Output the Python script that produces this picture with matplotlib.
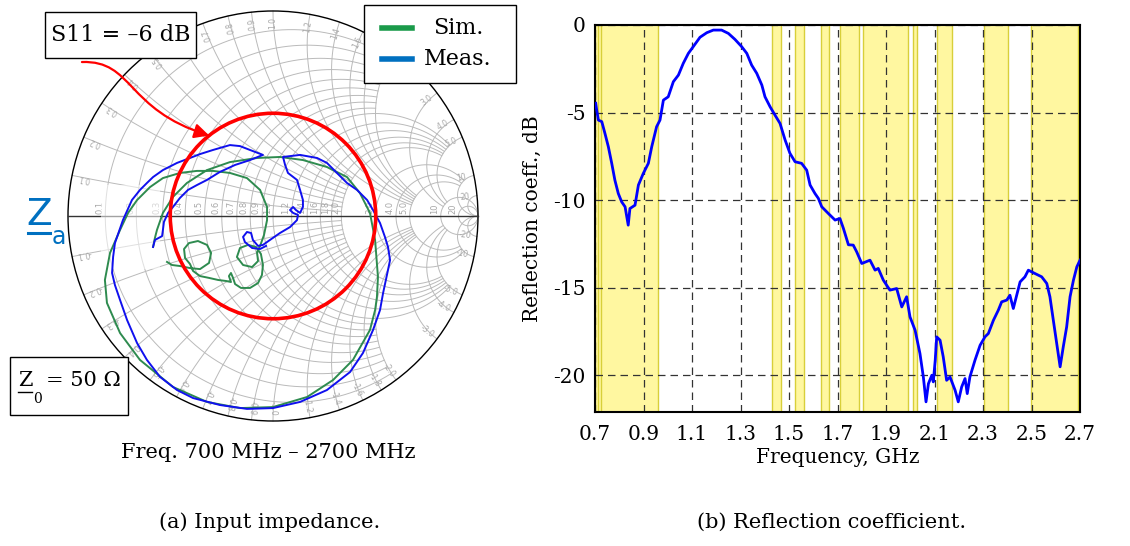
import numpy as np
import matplotlib.pyplot as plt
from matplotlib.patches import Circle, Rectangle, FancyArrowPatch
from matplotlib.path import Path
from matplotlib.lines import Line2D

plt.rcParams['font.family'] = ['DejaVu Serif']
plt.rcParams['mathtext.fontset'] = 'dejavuserif'
plt.rcParams['axes.unicode_minus'] = False

# --- Datos: carta de Smith (coeficiente de reflexion, parte real / imaginaria) ---
meas_re = [-0.585, -0.576, -0.541, -0.537, -0.532, -0.512, -0.488, -0.454, -0.415, -0.371,
           -0.322, -0.259, -0.185, -0.112, -0.049, -0.112, -0.161, -0.210, -0.293, -0.356,
           -0.405, -0.468, -0.537, -0.585, -0.615, -0.649, -0.688, -0.732, -0.771, -0.780,
           -0.785, -0.771, -0.746, -0.712, -0.663, -0.615, -0.551, -0.468, -0.390, -0.259,
           -0.127, 0.000, 0.132, 0.263, 0.376, 0.439, 0.488, 0.522, 0.537, 0.561,
           0.571, 0.561, 0.546, 0.522, 0.488, 0.459, 0.410, 0.361, 0.312, 0.263,
           0.215, 0.132, 0.049, 0.059, 0.073, 0.117, 0.132, 0.146, 0.146, 0.132,
           0.112, 0.098, 0.083, 0.098, 0.122, 0.117, 0.083, 0.034, -0.015, -0.049,
           -0.073, -0.098, -0.107, -0.127, -0.146, -0.137, -0.102, -0.063, -0.034]
meas_im = [-0.151, -0.117, -0.098, -0.068, -0.029, 0.015, 0.044, 0.088, 0.127, 0.151,
           0.176, 0.215, 0.249, 0.273, 0.298, 0.322, 0.341, 0.346, 0.322, 0.302,
           0.283, 0.259, 0.224, 0.190, 0.161, 0.127, 0.078, -0.020, -0.132, -0.200,
           -0.278, -0.337, -0.410, -0.507, -0.620, -0.702, -0.785, -0.849, -0.888, -0.922,
           -0.941, -0.937, -0.907, -0.849, -0.761, -0.668, -0.556, -0.459, -0.376, -0.263,
           -0.215, -0.151, -0.102, -0.034, 0.029, 0.078, 0.127, 0.161, 0.210, 0.259,
           0.283, 0.298, 0.288, 0.249, 0.210, 0.176, 0.127, 0.078, 0.044, 0.015,
           0.029, 0.044, 0.029, 0.015, 0.005, -0.020, -0.054, -0.083, -0.117, -0.141,
           -0.146, -0.117, -0.083, -0.078, -0.102, -0.127, -0.156, -0.161, -0.146]

sim_re = [-0.585, -0.576, -0.566, -0.537, -0.488, -0.420, -0.322, -0.210, -0.078, 0.034,
          0.146, 0.263, 0.361, 0.424, 0.473, 0.498, 0.512, 0.507, 0.498, 0.473,
          0.390, 0.293, 0.166, 0.000, -0.161, -0.322, -0.488, -0.649, -0.746, -0.810,
          -0.820, -0.795, -0.746, -0.707, -0.663, -0.600, -0.537, -0.454, -0.371, -0.293,
          -0.210, -0.127, -0.063, -0.029, -0.029, -0.044, -0.063, -0.078, -0.073, -0.102,
          -0.146, -0.176, -0.161, -0.122, -0.083, -0.059, -0.049, -0.054, -0.073, -0.112,
          -0.156, -0.185, -0.195, -0.205, -0.215, -0.205, -0.229, -0.268, -0.312, -0.356,
          -0.390, -0.405, -0.429, -0.434, -0.410, -0.366, -0.322, -0.302, -0.312, -0.356,
          -0.405, -0.454, -0.493, -0.517]
sim_im = [-0.151, -0.107, -0.068, 0.015, 0.093, 0.161, 0.224, 0.263, 0.283, 0.288,
          0.273, 0.239, 0.190, 0.112, 0.015, -0.117, -0.298, -0.395, -0.459, -0.556,
          -0.702, -0.800, -0.883, -0.932, -0.937, -0.907, -0.834, -0.702, -0.571, -0.424,
          -0.312, -0.180, -0.068, 0.015, 0.078, 0.141, 0.185, 0.210, 0.220, 0.220,
          0.210, 0.185, 0.127, 0.044, -0.020, -0.093, -0.146, -0.176, -0.220, -0.249,
          -0.239, -0.200, -0.156, -0.141, -0.151, -0.185, -0.239, -0.288, -0.327, -0.351,
          -0.351, -0.332, -0.302, -0.278, -0.293, -0.322, -0.317, -0.312, -0.302, -0.293,
          -0.268, -0.234, -0.205, -0.161, -0.132, -0.122, -0.141, -0.180, -0.229, -0.259,
          -0.254, -0.244, -0.239, -0.224]

s11_limit_db = -6

# valores de la rejilla de Smith
r_grid = [0.1, 0.2, 0.3, 0.4, 0.5, 0.6, 0.7, 0.8, 0.9, 1.0, 1.2, 1.4, 1.6, 1.8, 2.0,
          3.0, 4.0, 5.0, 10, 20]
r_labels = ['0.1', '0.2', '0.3', '0.4', '0.5', '0.6', '0.7', '0.8', '0.9', '1.0', '1.2',
            '1.4', '1.6', '1.8', '2.0', '3.0', '4.0', '5.0', '10', '20']

# --- Datos: coeficiente de reflexion medido ---
freq_ghz = [0.703, 0.707, 0.714, 0.728, 0.741, 0.755, 0.769, 0.782, 0.796, 0.810,
            0.824, 0.837, 0.844, 0.865, 0.879, 0.899, 0.920, 0.934, 0.954, 0.968,
            0.982, 1.002, 1.023, 1.044, 1.064, 1.085, 1.105, 1.133, 1.161, 1.188,
            1.222, 1.250, 1.277, 1.305, 1.326, 1.346, 1.367, 1.388, 1.401, 1.422,
            1.442, 1.463, 1.484, 1.504, 1.525, 1.552, 1.573, 1.587, 1.607, 1.621,
            1.635, 1.662, 1.690, 1.710, 1.724, 1.745, 1.765, 1.779, 1.800, 1.834,
            1.855, 1.868, 1.889, 1.916, 1.944, 1.965, 1.985, 1.999, 2.020, 2.040,
            2.054, 2.065, 2.075, 2.089, 2.095, 2.103, 2.109, 2.123, 2.136, 2.150,
            2.164, 2.185, 2.198, 2.212, 2.226, 2.235, 2.246, 2.267, 2.288, 2.308,
            2.322, 2.343, 2.363, 2.377, 2.398, 2.411, 2.425, 2.439, 2.453, 2.473,
            2.487, 2.514, 2.542, 2.563, 2.576, 2.590, 2.604, 2.618, 2.631, 2.645,
            2.659, 2.673, 2.687, 2.700]
s11_db = [-4.47, -4.86, -5.43, -5.52, -6.19, -6.95, -7.90, -8.86, -9.62, -10.10,
          -10.38, -11.43, -10.48, -10.29, -9.14, -8.48, -7.90, -6.95, -5.81, -5.43,
          -4.29, -4.10, -3.24, -2.86, -2.19, -1.62, -1.24, -0.70, -0.44, -0.29,
          -0.29, -0.48, -0.82, -1.24, -1.62, -2.29, -2.76, -3.43, -4.10, -4.67,
          -5.14, -5.62, -6.57, -7.33, -7.81, -7.90, -8.29, -9.14, -9.62, -9.90,
          -10.38, -10.76, -11.14, -11.05, -11.60, -12.55, -12.57, -12.95, -13.62, -13.43,
          -14.00, -13.90, -14.57, -15.14, -15.05, -16.10, -15.52, -16.67, -17.43, -18.76,
          -20.10, -21.52, -20.48, -20.00, -20.38, -19.14, -17.81, -18.00, -18.95, -20.29,
          -20.10, -20.86, -21.52, -20.67, -20.19, -21.05, -20.10, -19.14, -18.29, -17.81,
          -17.62, -16.86, -16.29, -15.81, -15.71, -15.43, -16.19, -15.43, -14.67, -14.38,
          -14.00, -14.19, -14.38, -14.76, -15.52, -16.86, -18.19, -19.52, -18.38, -17.24,
          -15.52, -14.57, -13.81, -13.43]

# bandas de servicio (GHz)
band_lo = [0.700, 0.714, 1.431, 1.525, 1.631, 1.710, 1.806, 2.010, 2.109, 2.304, 2.497]
band_hi = [0.723, 0.961, 1.467, 1.561, 1.666, 1.787, 1.992, 2.026, 2.171, 2.404, 2.691]

freq_ticks = [0.7, 0.9, 1.1, 1.3, 1.5, 1.7, 1.9, 2.1, 2.3, 2.5, 2.7]
db_ticks = [0, -5, -10, -15, -20]

W, H = 1130, 546
fig = plt.figure(figsize=(W / 100, H / 100), dpi=100)


def fp(x, y):
    # pixeles (origen arriba-izquierda) -> fraccion de figura
    return x / W, 1 - y / H


def fig_box(x0, y0, x1, y1):
    # recuadro blanco con borde negro en pixeles de figura
    fig.patches.append(Rectangle(fp(x0, y1), (x1 - x0) / W, (y1 - y0) / H,
                                 transform=fig.transFigure, fc='white', ec='black',
                                 lw=1.0, zorder=6))


# ================= (a) Carta de Smith =================
R_PX = 205
ax = fig.add_axes([20 / W, (H - 432) / H, 506 / W, 432 / H])
ax.set_xlim(-253 / R_PX, 253 / R_PX)
ax.set_ylim(-216 / R_PX, 216 / R_PX)
ax.axis('off')

grid_kw = dict(color='#bababa', lw=0.7, zorder=1)


def gamma(z):
    return (z - 1) / (z + 1)


def lim_x(r):
    if r < 1:
        return 2.0
    if r <= 2:
        return 5.0
    if r <= 5:
        return 10.0
    return 1e3


# circulos de resistencia constante
for r in r_grid:
    t = np.linspace(-np.arctan(lim_x(r)), np.arctan(lim_x(r)), 400)
    g = gamma(r + 1j * np.tan(t))
    ax.plot(g.real, g.imag, **grid_kw)

# arcos de reactancia constante
for xv in r_grid:
    rmax = lim_x(xv)
    t = np.linspace(0, np.arctan(rmax), 400)
    for s in (1, -1):
        g = gamma(np.tan(t) + 1j * s * xv)
        ax.plot(g.real, g.imag, **grid_kw)

# etiquetas de resistencia sobre el eje real
for r, lab in zip(r_grid, r_labels):
    xr = (r - 1) / (r + 1)
    ax.text(xr - 0.006, 0.012, lab, rotation=90, ha='right', va='bottom',
            fontsize=6, color='#a8a8a8', family='DejaVu Sans', zorder=1)

# etiquetas de reactancia junto al borde
for xv, lab in zip(r_grid, r_labels):
    for s in (1, -1):
        g = gamma(1j * s * xv)
        ang = np.degrees(np.angle(g))
        pos = 0.94 * g
        ax.text(pos.real, pos.imag, ('' if s > 0 else '-') + lab, rotation=ang,
                ha='center', va='center', fontsize=5.5, color='#a8a8a8',
                family='DejaVu Sans', rotation_mode='anchor', zorder=1)

ax.add_patch(Circle((0, 0), 1, fill=False, ec='black', lw=1.0, zorder=2))
ax.plot([-1, 1], [0, 0], color='#333333', lw=1.0, zorder=2)

# zona desvanecida junto a la etiqueta de Za
ax.add_patch(Rectangle((-0.84, -0.26), 0.29, 0.41, fc='white', ec='none',
                       alpha=0.55, zorder=2.5))

ax.plot(sim_re, sim_im, color='#2e8b4f', lw=1.4, zorder=3)
ax.plot(meas_re, meas_im, color='#1010ee', lw=1.4, zorder=3)

# circulo |S11| = -6 dB
rho = 10 ** (s11_limit_db / 20)
ax.add_patch(Circle((0, 0), rho, fill=False, ec='#ff0000', lw=2.6, zorder=4))

# flecha curva desde el recuadro
tip_ang = np.arctan2(0.468, -0.371)
tip = (rho * np.cos(tip_ang), rho * np.sin(tip_ang))
p0 = (-0.932, 0.751)
verts = [p0, (-0.68, 0.76), (-0.72, 0.52), tip]
arrow = FancyArrowPatch(path=Path(verts, [Path.MOVETO, Path.CURVE4, Path.CURVE4, Path.CURVE4]),
                        arrowstyle='-|>', mutation_scale=22, color='#ff0000', lw=1.6, zorder=5)
ax.add_patch(arrow)

fig_box(45, 12, 196, 58)
fig.text(*fp(120.5, 35), 'S11 = \u20136 dB', fontsize=16, ha='center', va='center', zorder=7)

# leyenda
fig_box(364, 5, 516, 83)
for yy, col, lab in [(28, '#1a9a4a', 'Sim.'), (59, '#0070c0', 'Meas.')]:
    fig.add_artist(Line2D([382 / W, 412 / W], [1 - yy / H] * 2, color=col, lw=4, zorder=7))
    fig.text(*fp(458, yy), lab, fontsize=16, ha='center', va='center', zorder=7)

# etiqueta Za
fig.text(*fp(39, 215), 'Z', fontsize=27, color='#0070c0', family='DejaVu Sans',
         ha='center', va='center')
fig.add_artist(Line2D([28 / W, 50 / W], [1 - 233 / H] * 2, color='#0070c0', lw=2.2))
fig.text(*fp(59, 237), 'a', fontsize=17, color='#0070c0', family='DejaVu Sans',
         ha='center', va='center')

# recuadro Z0
fig_box(10, 357, 128, 415)
fig.text(*fp(25, 381), 'Z', fontsize=15, ha='center', va='center', zorder=7)
fig.add_artist(Line2D([18 / W, 32 / W], [1 - 392 / H] * 2, color='black', lw=1.0, zorder=7))
fig.text(*fp(37, 399), '0', fontsize=10, ha='center', va='center', zorder=7)
fig.text(*fp(83, 381), '= 50 \u03a9', fontsize=15, ha='center', va='center', zorder=7)

fig.text(*fp(268, 453), 'Freq. 700 MHz \u2013 2700 MHz', fontsize=15, ha='center', va='center')

# ================= (b) Coeficiente de reflexion =================
ax2 = fig.add_axes([595 / W, (H - 412) / H, 485 / W, 387 / H])
for lo, hi in zip(band_lo, band_hi):
    ax2.axvspan(lo, hi, fc='#fff7a0', ec='none', zorder=0.5)
for lo, hi in zip(band_lo, band_hi):
    ax2.axvline(lo, color='#d8cf3a', lw=1, zorder=0.8)
    ax2.axvline(hi, color='#d8cf3a', lw=1, zorder=0.8)

ax2.plot(freq_ghz, s11_db, color='#0000ff', lw=2.0, zorder=3)
ax2.set_xlim(0.7, 2.7)
ax2.set_ylim(-22.1, 0)
ax2.set_xticks(freq_ticks)
ax2.set_yticks(db_ticks)
ax2.set_xticklabels([f'{v:.1f}' for v in freq_ticks])
ax2.grid(True, ls=(0, (6, 4)), color='#333333', lw=0.9)
ax2.tick_params(length=0, labelsize=14.5)
ax2.tick_params(axis='x', pad=9)
ax2.tick_params(axis='y', pad=7)
for sp in ax2.spines.values():
    sp.set_linewidth(1.5)
ax2.set_xlabel('Frequency, GHz', fontsize=14.5, labelpad=3)
ax2.set_ylabel('Reflection coeff., dB', fontsize=14.5, labelpad=8)

fig.text(*fp(270, 522), '(a) Input impedance.', fontsize=15, ha='center', va='center')
fig.text(*fp(832, 522), '(b) Reflection coefficient.', fontsize=15, ha='center', va='center')

fig.savefig('out.png', dpi=100)
